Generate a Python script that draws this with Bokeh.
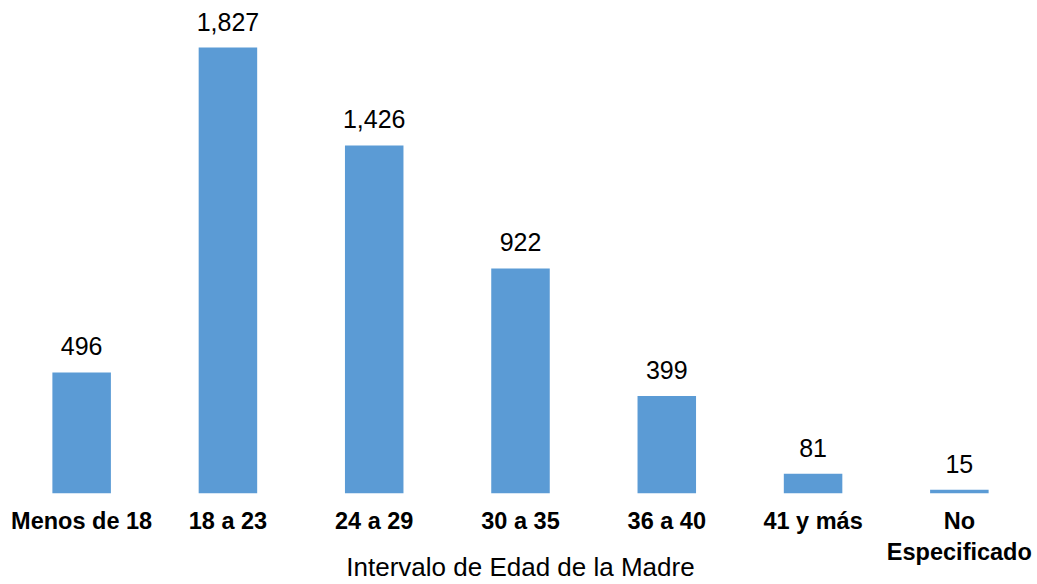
from bokeh.plotting import figure
from bokeh.models import ColumnDataSource, Range1d
from bokeh.embed import file_html
from bokeh.resources import INLINE

categories = ["Menos de 18", "18 a 23", "24 a 29", "30 a 35", "36 a 40", "41 y más", "No\nEspecificado"]
values = [496, 1827, 1426, 922, 399, 81, 15]
value_labels = ["{:,}".format(v) for v in values]
x_title = "Intervalo de Edad de la Madre"

FONT = "Liberation Sans"
BAR = "#5B9BD5"

src = ColumnDataSource(dict(cat=categories, val=values, lab=value_labels))

p = figure(x_range=categories, y_range=Range1d(0, 2020), width=1037, height=584,
           output_backend="svg", toolbar_location=None,
           min_border_left=8, min_border_right=5, min_border_top=0, min_border_bottom=0)
p.vbar(x="cat", top="val", width=0.4, source=src, color=BAR, line_color=None)
p.text(x="cat", y="val", text="lab", source=src, text_align="center",
       text_baseline="alphabetic", y_offset=-26, text_font_size="25px",
       text_font={"value": FONT}, text_color="#000000")

p.yaxis.visible = False
p.xgrid.visible = False
p.ygrid.visible = False
p.outline_line_color = None
p.x_range.range_padding = 0

ax = p.xaxis[0]
ax.axis_line_color = None
ax.major_tick_line_color = None
ax.minor_tick_line_color = None
ax.major_tick_out = 0
ax.major_tick_in = 0
ax.major_label_standoff = 14
ax.major_label_text_font = FONT
ax.major_label_text_font_style = "bold"
ax.major_label_text_font_size = "23.5px"
ax.major_label_text_color = "#000000"
ax.axis_label = x_title
ax.axis_label_text_font = FONT
ax.axis_label_text_font_style = "normal"
ax.axis_label_text_font_size = "26px"
ax.axis_label_text_color = "#000000"
ax.axis_label_standoff = -16

open("out.html", "w").write(file_html(p, INLINE))
